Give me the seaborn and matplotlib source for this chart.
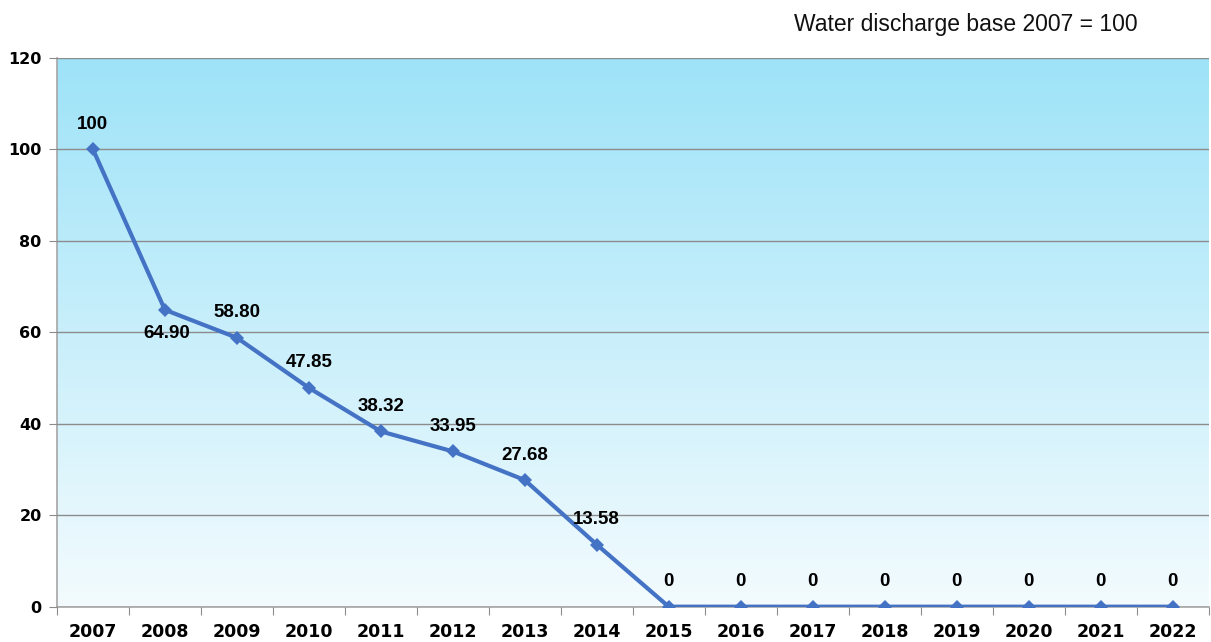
import numpy as np
import pandas as pd
import matplotlib
matplotlib.use('Agg')
import matplotlib.pyplot as plt
from matplotlib.colors import LinearSegmentedColormap
import seaborn as sns

sns.set_style('white')
plt.rcParams['text.color'] = 'black'
plt.rcParams['xtick.labelcolor'] = 'black'
plt.rcParams['ytick.labelcolor'] = 'black'

# -----------------------------
# Data
# -----------------------------
years = ['2007', '2008', '2009', '2010', '2011', '2012', '2013', '2014',
         '2015', '2016', '2017', '2018', '2019', '2020', '2021', '2022']
values = [100, 64.90, 58.80, 47.85, 38.32, 33.95, 27.68, 13.58,
          0, 0, 0, 0, 0, 0, 0, 0]
labels = ['100', '64.90', '58.80', '47.85', '38.32', '33.95', '27.68', '13.58',
          '0', '0', '0', '0', '0', '0', '0', '0']
y_ticks = [0, 20, 40, 60, 80, 100, 120]

df = pd.DataFrame({'year': years, 'value': values})

fig, ax = plt.subplots(figsize=(12.11, 6.42), dpi=100)
fig.subplots_adjust(left=0.047, right=0.998, top=0.91, bottom=0.055)

# gradient background
cmap = LinearSegmentedColormap.from_list('bg', ['#f3fbfe', '#9ee3f8'])
grad = np.linspace(0, 1, 256).reshape(-1, 1)
ax.imshow(grad, aspect='auto', cmap=cmap, origin='lower',
          extent=[0, 1, 0, 1], transform=ax.transAxes, zorder=0)

sns.lineplot(data=df, x='year', y='value', ax=ax, color='#4472c4',
             linewidth=3, marker='D', markersize=7, markeredgewidth=0,
             sort=False, zorder=3)

# data labels
for i, (v, lab) in enumerate(zip(values, labels)):
    offset = (1, -17) if lab == '64.90' else (0, 18)
    ax.annotate(lab, (i, v), xytext=offset, textcoords='offset points',
                ha='center', va='center', fontsize=13.5, fontweight='bold',
                family='Liberation Sans', color='black', zorder=4)

ax.set_xlim(-0.5, len(years) - 0.5)
ax.set_ylim(0, 120)
ax.set_yticks(y_ticks)
ax.yaxis.grid(True, color='#8c8c8c', linewidth=1)
ax.xaxis.grid(False)
ax.set_axisbelow(False)
for line in ax.get_ygridlines():
    line.set_zorder(1)

# category axis: tick marks between categories, labels at centers
ax.set_xticks(np.arange(-0.5, len(years) + 0.5, 1))
ax.set_xticklabels([])
ax.set_xticks(np.arange(len(years)), minor=True)
ax.set_xticklabels(years, minor=True, fontsize=12.5, fontweight='bold',
                   family='DejaVu Sans')
ax.tick_params(axis='x', which='major', length=6, color='#8c8c8c', direction='out', bottom=True)
ax.tick_params(axis='x', which='minor', length=0, pad=12)
ax.tick_params(axis='y', length=6, color='#8c8c8c', direction='out', left=True, pad=5)
for t in ax.get_yticklabels():
    t.set_fontweight('bold')
    t.set_fontsize(11.5)
    t.set_family('DejaVu Sans')

ax.set_xlabel('')
ax.set_ylabel('')
for side in ['top', 'right']:
    ax.spines[side].set_visible(False)
for side in ['left', 'bottom']:
    ax.spines[side].set_color('#a6a6a6')
    ax.spines[side].set_linewidth(1.2)

fig.text(0.939, 0.962, 'Water discharge base 2007 = 100', ha='right', va='center',
         fontsize=16.5, family='Liberation Sans', color='#111111')

plt.savefig('out.png', dpi=100)
